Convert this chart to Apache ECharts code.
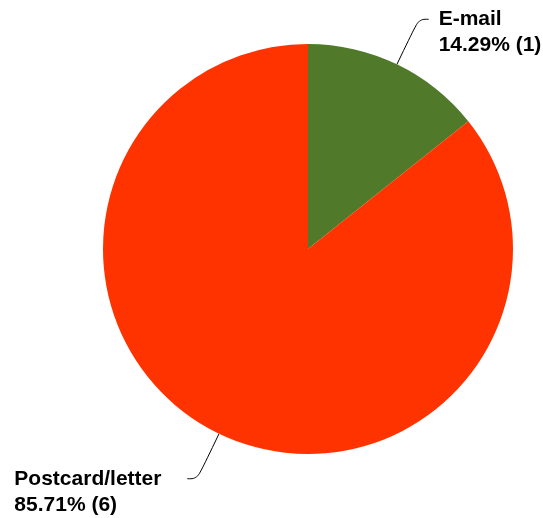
<!DOCTYPE html>
<html>
<head>
<meta charset="utf-8">
<style>
  html, body { margin: 0; padding: 0; background: #fff; }
  #main { width: 543px; height: 518px; }
</style>
<script src="https://cdn.jsdelivr.net/npm/echarts@6/dist/echarts.min.js"></script>
</head>
<body>
<div id="main"></div>
<script>
// categories and counts
var categories = ['E-mail', 'Postcard/letter'];
var counts = [1, 6];
var sliceColors = ['#507A2A', '#FF3300'];

var total = counts.reduce(function (a, b) { return a + b; }, 0);
var pieData = categories.map(function (name, i) {
    return { name: name, value: counts[i], itemStyle: { color: sliceColors[i] } };
});

var labelFont = {
    fontFamily: 'Liberation Sans, Arial, sans-serif',
    fontWeight: 'bold',
    fontSize: 21,
    lineHeight: 26,
    color: '#000'
};

var myChart = echarts.init(document.getElementById('main'), null, { renderer: 'canvas' });
var option = {
    animation: false,
    series: [{
        type: 'pie',
        center: [308, 249],
        radius: 205,
        startAngle: 90,
        clockwise: true,
        data: pieData,
        label: Object.assign({
            show: true,
            position: 'outside',
            overflow: 'none',
            distanceToLabelLine: 10,
            // top padding so the guide line points at the first text line
            padding: [26, 0, 0, 0],
            formatter: function (p) {
                return '{t|' + p.name + '}\n{t|' + (p.value / total * 100).toFixed(2) + '% (' + p.value + ')}';
            },
            rich: {
                t: Object.assign({ width: 163, align: 'left' }, labelFont)
            }
        }, labelFont),
        labelLine: {
            show: true,
            length: 50,
            length2: 10,
            smooth: 0.4,
            lineStyle: { color: '#000', width: 1 }
        },
        itemStyle: { borderWidth: 0 },
        emphasis: { disabled: true }
    }]
};
myChart.setOption(option);
window.onresize = myChart.resize;
</script>
</body>
</html>
